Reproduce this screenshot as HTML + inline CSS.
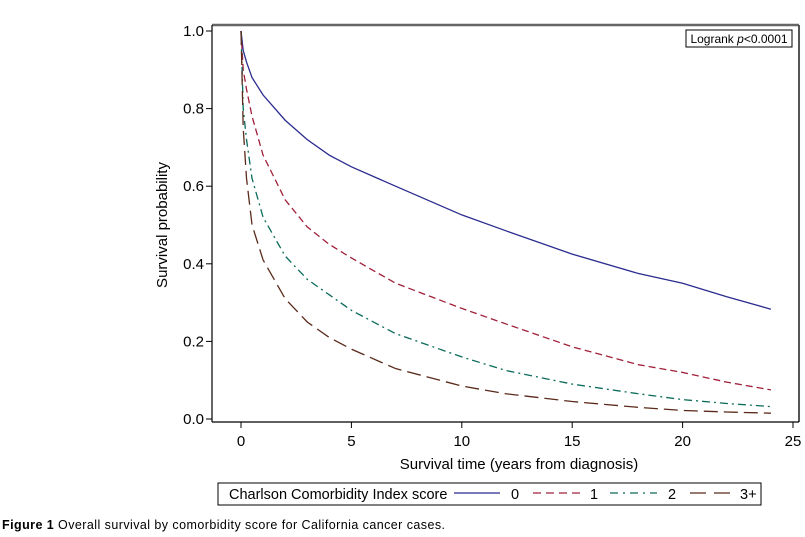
<!DOCTYPE html>
<html><head><meta charset="utf-8"><style>
body{margin:0;background:#fff;width:805px;height:537px;overflow:hidden;font-family:"Liberation Sans",sans-serif}
svg{display:block}
</style></head><body>
<svg width="805" height="537" font-family="Liberation Sans, sans-serif">
<rect x="212" y="25" width="587" height="397" fill="#fff"/>
<line x1="212" y1="25" x2="799" y2="25" stroke="#666" stroke-width="2.5"/>
<line x1="799" y1="25" x2="799" y2="422" stroke="#555" stroke-width="2"/>
<line x1="212" y1="25" x2="212" y2="422" stroke="#000" stroke-width="1.2"/>
<line x1="212" y1="422" x2="799" y2="422" stroke="#000" stroke-width="1.2"/>
<g id="ticks"></g>
<g id="curves"></g>
<rect x="686" y="30" width="106" height="17" fill="#fff" stroke="#000" stroke-width="1"/>
<text x="739" y="43" font-size="12" text-anchor="middle">Logrank <tspan font-style="italic">p</tspan>&lt;0.0001</text>
<text x="519" y="469" font-size="15" text-anchor="middle">Survival time (years from diagnosis)</text>
<text transform="translate(167,225) rotate(-90)" font-size="15" text-anchor="middle">Survival probability</text>
<g>
<rect x="218" y="483" width="543" height="22" fill="#fff" stroke="#000" stroke-width="1"/>
<text x="229" y="499" font-size="14.5">Charlson Comorbidity Index score</text>
<line x1="454" y1="493" x2="500" y2="493" stroke="#2b2b8f" stroke-width="1.3"/>
<text x="511" y="499" font-size="14.5">0</text>
<line x1="533" y1="493" x2="580" y2="493" stroke="#a0203a" stroke-width="1.3" stroke-dasharray="8,5"/>
<text x="590" y="499" font-size="14.5">1</text>
<line x1="610" y1="493" x2="657" y2="493" stroke="#0a6b5a" stroke-width="1.3" stroke-dasharray="8,5,2,5"/>
<text x="668" y="499" font-size="14.5">2</text>
<line x1="690" y1="493" x2="737" y2="493" stroke="#5a2a1a" stroke-width="1.3" stroke-dasharray="16,8"/>
<text x="740" y="499" font-size="14.5">3+</text>
</g>
<text x="2" y="529" font-size="12.5" font-family="Liberation Sans, sans-serif" textLength="443"><tspan font-weight="bold">Figure 1</tspan> Overall survival by comorbidity score for California cancer cases.</text>
</svg>
<script>
const times=[0,0.1,0.25,0.5,1,2,3,4,5,7,10,12,15,18,20,22,24];
const s0=[1,0.95,0.92,0.88,0.835,0.77,0.72,0.68,0.65,0.6,0.526,0.485,0.425,0.375,0.35,0.315,0.283];
const s1=[1,0.9,0.85,0.78,0.68,0.565,0.495,0.45,0.415,0.35,0.285,0.245,0.186,0.14,0.12,0.095,0.075];
const s2=[1,0.8,0.72,0.62,0.52,0.42,0.36,0.32,0.28,0.22,0.16,0.125,0.09,0.065,0.05,0.04,0.032];
const s3=[1,0.75,0.62,0.5,0.41,0.31,0.25,0.21,0.18,0.13,0.085,0.065,0.045,0.03,0.022,0.018,0.015];
const xTicks=[0,5,10,15,20,25];
const yTicks=[0,0.2,0.4,0.6,0.8,1.0];
const NS='http://www.w3.org/2000/svg';
const X=t=>241+t*22.08;
const Y=v=>419-v*388;
const tg=document.getElementById('ticks');
xTicks.forEach(t=>{
 const l=document.createElementNS(NS,'line');
 l.setAttribute('x1',X(t));l.setAttribute('x2',X(t));l.setAttribute('y1',422);l.setAttribute('y2',428);l.setAttribute('stroke','#000');
 
 
 tg.appendChild(l);
 const tx=document.createElementNS(NS,'text');
 tx.setAttribute('x',X(t));tx.setAttribute('y',446);tx.setAttribute('font-size','15');tx.setAttribute('text-anchor','middle');tx.textContent=t;
 
 
 tg.appendChild(tx);
});
yTicks.forEach(v=>{
 const l=document.createElementNS(NS,'line');
 l.setAttribute('x1',206);l.setAttribute('x2',212);l.setAttribute('y1',Y(v));l.setAttribute('y2',Y(v));l.setAttribute('stroke','#000');
 
 
 tg.appendChild(l);
 const tx=document.createElementNS(NS,'text');
 tx.setAttribute('x',204);tx.setAttribute('y',Y(v)+5);tx.setAttribute('font-size','15');tx.setAttribute('text-anchor','end');tx.textContent=v.toFixed(1);
 
 
 tg.appendChild(tx);
});
const cg=document.getElementById('curves');
const series=[[s0,'#2b2b8f','none','curve-cci-0'],[s1,'#a0203a','7,4','curve-cci-1'],[s2,'#0a6b5a','8,4,2,4','curve-cci-2'],[s3,'#5a2a1a','14,6','curve-cci-3']];
series.forEach(([s,c,d,n])=>{
 const p=document.createElementNS(NS,'polyline');
 p.setAttribute('points',times.map((t,i)=>X(t)+','+Y(s[i])).join(' '));
 p.setAttribute('fill','none');p.setAttribute('stroke',c);p.setAttribute('stroke-width','1.3');
 if(d!=='none')p.setAttribute('stroke-dasharray',d);
 
 
 cg.appendChild(p);
});
</script>
</body></html>
